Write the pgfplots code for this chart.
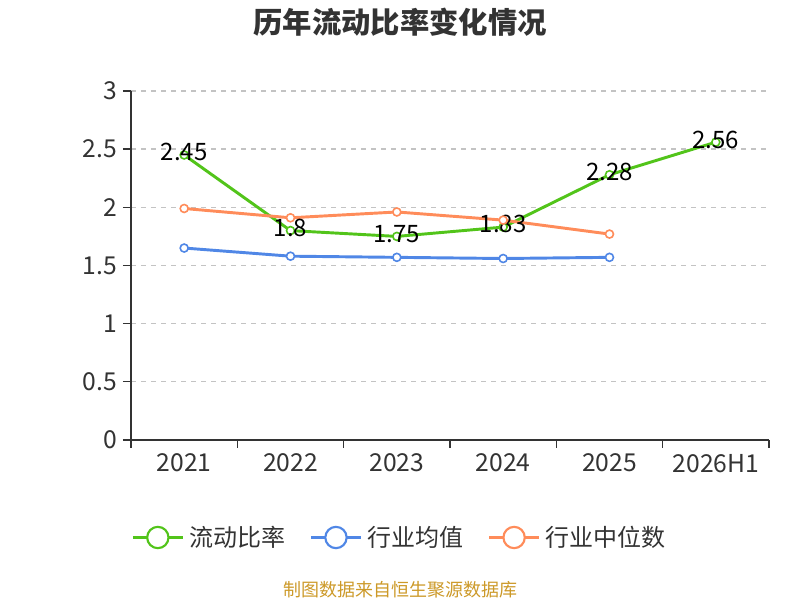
\documentclass[border=0pt]{standalone}
\usepackage{pgfplots}
\pgfplotsset{compat=1.18}
\usepackage{fontspec}
\setmainfont{Noto Sans CJK SC}
\definecolor{cgreen}{RGB}{82,196,26}
\definecolor{cblue}{RGB}{80,135,230}
\definecolor{corange}{RGB}{255,140,90}
\definecolor{ctext}{RGB}{51,51,51}
\definecolor{csrc}{RGB}{204,153,40}
\definecolor{cgrid}{RGB}{195,195,195}
\begin{document}
\begin{tikzpicture}
\path (0pt,0pt) rectangle (600pt,450pt);
\node[font=\bfseries\fontsize{22}{26}\selectfont, text=ctext] at (300pt,433pt) {历年流动比率变化情况};
\node[font=\fontsize{13.5}{16}\selectfont, text=csrc] at (300pt,7.5pt) {制图数据来自恒生聚源数据库};
\begin{axis}[
  at={(98.25pt,120pt)}, anchor=south west,
  scale only axis, width=478.5pt, height=261.75pt,
  xmin=-0.5, xmax=5.5, ymin=0, ymax=3,
  axis lines*=left,
  axis line style={ctext, line width=1pt},
  xtick={0,1,2,3,4,5},
  xticklabels={2021,2022,2023,2024,2025,2026H1},
  minor xtick={-0.5,0.5,1.5,2.5,3.5,4.5,5.5},
  ytick={0,0.5,1,1.5,2,2.5,3},
  yticklabels={0,0.5,1,1.5,2,2.5,3},
  tick align=outside,
  major x tick style={draw=none},
  minor x tick style={ctext, line width=1pt},
  major y tick style={ctext, line width=1pt},
  minor tick length=6pt, major tick length=6pt,
  ymajorgrids,
  grid style={cgrid, line width=1pt, dash pattern=on 4pt off 3.5pt},
  tick label style={font=\fontsize{18.5}{22}\selectfont, text=ctext},
  xticklabel style={yshift=-1pt},
  yticklabel style={xshift=-1pt},
  clip=false,
  legend style={at={(0.4216,-0.2794)}, anchor=center, draw=none, fill=none,
    legend columns=3, font=\fontsize{18}{21}\selectfont, text=ctext,
    /tikz/every even column/.append style={column sep=16.5pt},
    /tikz/every odd column/.append style={column sep=2pt},
    legend cell align=left},
  legend image code/.code={
    \draw[line width=1.6pt] (0pt,0pt) -- (37.5pt,0pt);
    \draw[line width=1.6pt, fill=white] (18.75pt,0pt) circle (8pt);
  },
]
\addplot[cgreen, line width=2.2pt, mark=*, mark size=3pt, mark options={fill=white, line width=1.2pt},
  nodes near coords, point meta=explicit symbolic,
  every node near coord/.append style={anchor=center, yshift=2pt, text=black, font=\fontsize{18}{21}\selectfont}]
  table[meta=label] {
x y label
0 2.45 2.45
1 1.80 1.8
2 1.75 1.75
3 1.83 1.83
4 2.28 2.28
5 2.56 2.56
};
\addlegendentry{流动比率}
\addplot[cblue, line width=2.2pt, mark=*, mark size=3pt, mark options={fill=white, line width=1.2pt}]
  coordinates {(0,1.65) (1,1.58) (2,1.57) (3,1.56) (4,1.57)};
\addlegendentry{行业均值}
\addplot[corange, line width=2.2pt, mark=*, mark size=3pt, mark options={fill=white, line width=1.2pt}]
  coordinates {(0,1.99) (1,1.91) (2,1.96) (3,1.89) (4,1.77)};
\addlegendentry{行业中位数}
\end{axis}
\end{tikzpicture}
\end{document}
